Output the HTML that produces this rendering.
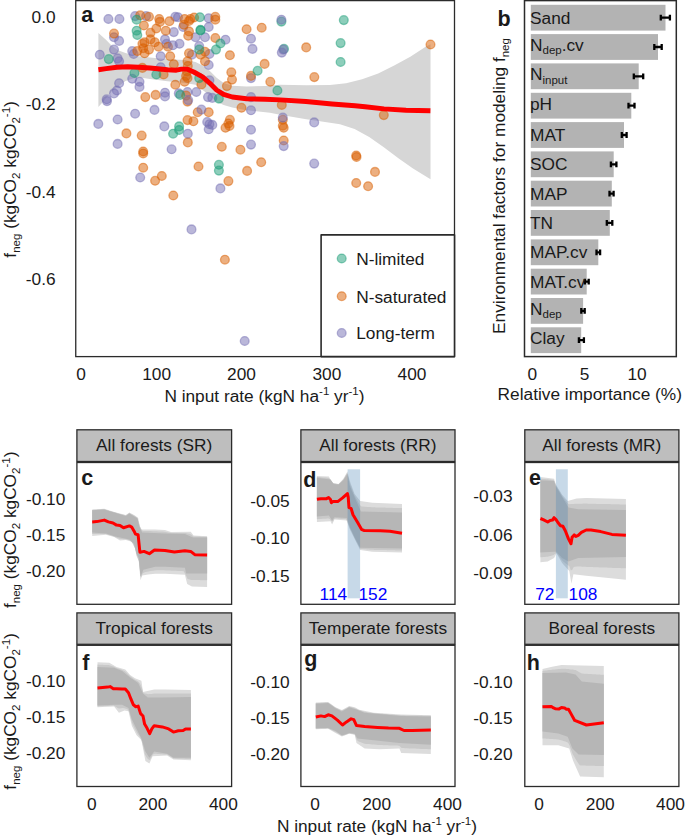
<!DOCTYPE html>
<html><head><meta charset="utf-8"><style>
html,body{margin:0;padding:0;background:#fff;}
body{width:685px;height:836px;overflow:hidden;position:relative;}
svg{position:absolute;left:0;top:0;font-family:"Liberation Sans",sans-serif;}
</style></head><body>
<svg width="685" height="836" viewBox="0 0 685 836">
<rect x="75.75" y="0.6" width="378.75" height="356.0" fill="#fff" stroke="#2b2b2b" stroke-width="1.3"/>
<polygon points="98.4,33.1 106.2,40.1 111.5,45.5 118.0,50.3 125.5,53.0 133.1,55.2 141.7,56.8 150.0,57.6 167.5,59.2 185.0,60.0 195.5,62.0 202.6,65.5 209.6,70.8 216.6,77.8 223.6,83.0 232.3,85.7 246.4,86.5 265.0,86.0 280.0,84.8 306.3,85.2 330.0,85.1 346.1,83.2 362.1,79.2 378.2,73.5 394.2,65.5 410.3,56.7 426.4,46.2 430.5,44.2 430.5,179.3 413.0,168.4 398.4,158.2 383.8,147.2 369.2,137.0 354.6,129.0 340.0,124.3 320.0,121.3 306.3,119.3 280.0,114.8 270.0,112.8 246.4,110.2 232.3,107.6 223.6,104.9 216.6,101.4 209.6,95.3 202.6,90.0 195.5,84.8 185.0,83.0 167.5,81.3 150.0,79.0 141.7,77.8 133.1,78.6 125.5,81.0 118.0,86.4 111.5,91.8 106.2,98.3 98.4,106.9" fill="#d6d6d6"/>
<circle cx="108.4" cy="19.0" r="4.4" fill="#7570b3" fill-opacity="0.5" stroke="#7570b3" stroke-opacity="0.5" stroke-width="1.3"/>
<circle cx="119.4" cy="19.0" r="4.4" fill="#7570b3" fill-opacity="0.5" stroke="#7570b3" stroke-opacity="0.5" stroke-width="1.3"/>
<circle cx="135.1" cy="16.1" r="4.4" fill="#7570b3" fill-opacity="0.5" stroke="#7570b3" stroke-opacity="0.5" stroke-width="1.3"/>
<circle cx="146.1" cy="16.1" r="4.4" fill="#7570b3" fill-opacity="0.5" stroke="#7570b3" stroke-opacity="0.5" stroke-width="1.3"/>
<circle cx="114" cy="37.2" r="4.4" fill="#7570b3" fill-opacity="0.5" stroke="#7570b3" stroke-opacity="0.5" stroke-width="1.3"/>
<circle cx="119.1" cy="40.9" r="4.4" fill="#7570b3" fill-opacity="0.5" stroke="#7570b3" stroke-opacity="0.5" stroke-width="1.3"/>
<circle cx="114" cy="49.6" r="4.4" fill="#7570b3" fill-opacity="0.5" stroke="#7570b3" stroke-opacity="0.5" stroke-width="1.3"/>
<circle cx="99.8" cy="54.7" r="4.4" fill="#7570b3" fill-opacity="0.5" stroke="#7570b3" stroke-opacity="0.5" stroke-width="1.3"/>
<circle cx="132.2" cy="51.1" r="4.4" fill="#7570b3" fill-opacity="0.5" stroke="#7570b3" stroke-opacity="0.5" stroke-width="1.3"/>
<circle cx="133.7" cy="54" r="4.4" fill="#7570b3" fill-opacity="0.5" stroke="#7570b3" stroke-opacity="0.5" stroke-width="1.3"/>
<circle cx="117.6" cy="58.4" r="4.4" fill="#7570b3" fill-opacity="0.5" stroke="#7570b3" stroke-opacity="0.5" stroke-width="1.3"/>
<circle cx="119.1" cy="61.3" r="4.4" fill="#7570b3" fill-opacity="0.5" stroke="#7570b3" stroke-opacity="0.5" stroke-width="1.3"/>
<circle cx="160.7" cy="56.2" r="4.4" fill="#7570b3" fill-opacity="0.5" stroke="#7570b3" stroke-opacity="0.5" stroke-width="1.3"/>
<circle cx="165" cy="39.4" r="4.4" fill="#7570b3" fill-opacity="0.5" stroke="#7570b3" stroke-opacity="0.5" stroke-width="1.3"/>
<circle cx="166.5" cy="43.8" r="4.4" fill="#7570b3" fill-opacity="0.5" stroke="#7570b3" stroke-opacity="0.5" stroke-width="1.3"/>
<circle cx="173.8" cy="32.1" r="4.4" fill="#7570b3" fill-opacity="0.5" stroke="#7570b3" stroke-opacity="0.5" stroke-width="1.3"/>
<circle cx="175.3" cy="16.8" r="4.4" fill="#7570b3" fill-opacity="0.5" stroke="#7570b3" stroke-opacity="0.5" stroke-width="1.3"/>
<circle cx="119.1" cy="83.2" r="4.4" fill="#7570b3" fill-opacity="0.5" stroke="#7570b3" stroke-opacity="0.5" stroke-width="1.3"/>
<circle cx="116.9" cy="90.5" r="4.4" fill="#7570b3" fill-opacity="0.5" stroke="#7570b3" stroke-opacity="0.5" stroke-width="1.3"/>
<circle cx="114" cy="93.4" r="4.4" fill="#7570b3" fill-opacity="0.5" stroke="#7570b3" stroke-opacity="0.5" stroke-width="1.3"/>
<circle cx="132.2" cy="78.8" r="4.4" fill="#7570b3" fill-opacity="0.5" stroke="#7570b3" stroke-opacity="0.5" stroke-width="1.3"/>
<circle cx="139.5" cy="81.8" r="4.4" fill="#7570b3" fill-opacity="0.5" stroke="#7570b3" stroke-opacity="0.5" stroke-width="1.3"/>
<circle cx="139.5" cy="86.9" r="4.4" fill="#7570b3" fill-opacity="0.5" stroke="#7570b3" stroke-opacity="0.5" stroke-width="1.3"/>
<circle cx="106.7" cy="99.3" r="4.4" fill="#7570b3" fill-opacity="0.5" stroke="#7570b3" stroke-opacity="0.5" stroke-width="1.3"/>
<circle cx="165" cy="92.7" r="4.4" fill="#7570b3" fill-opacity="0.5" stroke="#7570b3" stroke-opacity="0.5" stroke-width="1.3"/>
<circle cx="160.7" cy="67.2" r="4.4" fill="#7570b3" fill-opacity="0.5" stroke="#7570b3" stroke-opacity="0.5" stroke-width="1.3"/>
<circle cx="165" cy="96.4" r="4.4" fill="#7570b3" fill-opacity="0.5" stroke="#7570b3" stroke-opacity="0.5" stroke-width="1.3"/>
<circle cx="114" cy="33.6" r="4.4" fill="#d95f02" fill-opacity="0.5" stroke="#d95f02" stroke-opacity="0.5" stroke-width="1.3"/>
<circle cx="140.2" cy="15.3" r="4.4" fill="#d95f02" fill-opacity="0.5" stroke="#d95f02" stroke-opacity="0.5" stroke-width="1.3"/>
<circle cx="149" cy="16.8" r="4.4" fill="#d95f02" fill-opacity="0.5" stroke="#d95f02" stroke-opacity="0.5" stroke-width="1.3"/>
<circle cx="159.2" cy="19" r="4.4" fill="#d95f02" fill-opacity="0.5" stroke="#d95f02" stroke-opacity="0.5" stroke-width="1.3"/>
<circle cx="159.9" cy="21.9" r="4.4" fill="#d95f02" fill-opacity="0.5" stroke="#d95f02" stroke-opacity="0.5" stroke-width="1.3"/>
<circle cx="169.4" cy="21.2" r="4.4" fill="#d95f02" fill-opacity="0.5" stroke="#d95f02" stroke-opacity="0.5" stroke-width="1.3"/>
<circle cx="143.9" cy="25.5" r="4.4" fill="#d95f02" fill-opacity="0.5" stroke="#d95f02" stroke-opacity="0.5" stroke-width="1.3"/>
<circle cx="156.3" cy="28.5" r="4.4" fill="#d95f02" fill-opacity="0.5" stroke="#d95f02" stroke-opacity="0.5" stroke-width="1.3"/>
<circle cx="165.8" cy="30.7" r="4.4" fill="#d95f02" fill-opacity="0.5" stroke="#d95f02" stroke-opacity="0.5" stroke-width="1.3"/>
<circle cx="150.5" cy="32.8" r="4.4" fill="#d95f02" fill-opacity="0.5" stroke="#d95f02" stroke-opacity="0.5" stroke-width="1.3"/>
<circle cx="144.6" cy="42.3" r="4.4" fill="#d95f02" fill-opacity="0.5" stroke="#d95f02" stroke-opacity="0.5" stroke-width="1.3"/>
<circle cx="150.5" cy="39.4" r="4.4" fill="#d95f02" fill-opacity="0.5" stroke="#d95f02" stroke-opacity="0.5" stroke-width="1.3"/>
<circle cx="154.8" cy="42.3" r="4.4" fill="#d95f02" fill-opacity="0.5" stroke="#d95f02" stroke-opacity="0.5" stroke-width="1.3"/>
<circle cx="142.4" cy="43.8" r="4.4" fill="#d95f02" fill-opacity="0.5" stroke="#d95f02" stroke-opacity="0.5" stroke-width="1.3"/>
<circle cx="143.2" cy="48.2" r="4.4" fill="#d95f02" fill-opacity="0.5" stroke="#d95f02" stroke-opacity="0.5" stroke-width="1.3"/>
<circle cx="149" cy="49.6" r="4.4" fill="#d95f02" fill-opacity="0.5" stroke="#d95f02" stroke-opacity="0.5" stroke-width="1.3"/>
<circle cx="158.5" cy="46.7" r="4.4" fill="#d95f02" fill-opacity="0.5" stroke="#d95f02" stroke-opacity="0.5" stroke-width="1.3"/>
<circle cx="168" cy="46.7" r="4.4" fill="#d95f02" fill-opacity="0.5" stroke="#d95f02" stroke-opacity="0.5" stroke-width="1.3"/>
<circle cx="144.6" cy="53.3" r="4.4" fill="#d95f02" fill-opacity="0.5" stroke="#d95f02" stroke-opacity="0.5" stroke-width="1.3"/>
<circle cx="137.3" cy="51.1" r="4.4" fill="#d95f02" fill-opacity="0.5" stroke="#d95f02" stroke-opacity="0.5" stroke-width="1.3"/>
<circle cx="170.2" cy="56.2" r="4.4" fill="#d95f02" fill-opacity="0.5" stroke="#d95f02" stroke-opacity="0.5" stroke-width="1.3"/>
<circle cx="142.4" cy="67.9" r="4.4" fill="#d95f02" fill-opacity="0.5" stroke="#d95f02" stroke-opacity="0.5" stroke-width="1.3"/>
<circle cx="163.6" cy="74.5" r="4.4" fill="#d95f02" fill-opacity="0.5" stroke="#d95f02" stroke-opacity="0.5" stroke-width="1.3"/>
<circle cx="175.3" cy="84.7" r="4.4" fill="#d95f02" fill-opacity="0.5" stroke="#d95f02" stroke-opacity="0.5" stroke-width="1.3"/>
<circle cx="145.3" cy="97.1" r="4.4" fill="#d95f02" fill-opacity="0.5" stroke="#d95f02" stroke-opacity="0.5" stroke-width="1.3"/>
<circle cx="155.6" cy="94.9" r="4.4" fill="#d95f02" fill-opacity="0.5" stroke="#d95f02" stroke-opacity="0.5" stroke-width="1.3"/>
<circle cx="173.8" cy="64.2" r="4.4" fill="#d95f02" fill-opacity="0.5" stroke="#d95f02" stroke-opacity="0.5" stroke-width="1.3"/>
<circle cx="108.8" cy="59.1" r="4.4" fill="#1b9e77" fill-opacity="0.5" stroke="#1b9e77" stroke-opacity="0.5" stroke-width="1.3"/>
<circle cx="136.6" cy="19.7" r="4.4" fill="#1b9e77" fill-opacity="0.5" stroke="#1b9e77" stroke-opacity="0.5" stroke-width="1.3"/>
<circle cx="136.6" cy="30.7" r="4.4" fill="#1b9e77" fill-opacity="0.5" stroke="#1b9e77" stroke-opacity="0.5" stroke-width="1.3"/>
<circle cx="137.3" cy="35" r="4.4" fill="#1b9e77" fill-opacity="0.5" stroke="#1b9e77" stroke-opacity="0.5" stroke-width="1.3"/>
<circle cx="134.4" cy="73" r="4.4" fill="#1b9e77" fill-opacity="0.5" stroke="#1b9e77" stroke-opacity="0.5" stroke-width="1.3"/>
<circle cx="156.3" cy="74.5" r="4.4" fill="#1b9e77" fill-opacity="0.5" stroke="#1b9e77" stroke-opacity="0.5" stroke-width="1.3"/>
<circle cx="178" cy="17.2" r="4.4" fill="#7570b3" fill-opacity="0.5" stroke="#7570b3" stroke-opacity="0.5" stroke-width="1.3"/>
<circle cx="208.7" cy="18.2" r="4.4" fill="#7570b3" fill-opacity="0.5" stroke="#7570b3" stroke-opacity="0.5" stroke-width="1.3"/>
<circle cx="183.1" cy="27" r="4.4" fill="#7570b3" fill-opacity="0.5" stroke="#7570b3" stroke-opacity="0.5" stroke-width="1.3"/>
<circle cx="208.7" cy="27" r="4.4" fill="#7570b3" fill-opacity="0.5" stroke="#7570b3" stroke-opacity="0.5" stroke-width="1.3"/>
<circle cx="195.5" cy="37.2" r="4.4" fill="#7570b3" fill-opacity="0.5" stroke="#7570b3" stroke-opacity="0.5" stroke-width="1.3"/>
<circle cx="205" cy="37.2" r="4.4" fill="#7570b3" fill-opacity="0.5" stroke="#7570b3" stroke-opacity="0.5" stroke-width="1.3"/>
<circle cx="225.5" cy="39.7" r="4.4" fill="#7570b3" fill-opacity="0.5" stroke="#7570b3" stroke-opacity="0.5" stroke-width="1.3"/>
<circle cx="251" cy="38.7" r="4.4" fill="#7570b3" fill-opacity="0.5" stroke="#7570b3" stroke-opacity="0.5" stroke-width="1.3"/>
<circle cx="252.5" cy="48.9" r="4.4" fill="#7570b3" fill-opacity="0.5" stroke="#7570b3" stroke-opacity="0.5" stroke-width="1.3"/>
<circle cx="179.5" cy="43.8" r="4.4" fill="#7570b3" fill-opacity="0.5" stroke="#7570b3" stroke-opacity="0.5" stroke-width="1.3"/>
<circle cx="172.9" cy="45.3" r="4.4" fill="#7570b3" fill-opacity="0.5" stroke="#7570b3" stroke-opacity="0.5" stroke-width="1.3"/>
<circle cx="199.2" cy="46" r="4.4" fill="#7570b3" fill-opacity="0.5" stroke="#7570b3" stroke-opacity="0.5" stroke-width="1.3"/>
<circle cx="209.4" cy="54" r="4.4" fill="#7570b3" fill-opacity="0.5" stroke="#7570b3" stroke-opacity="0.5" stroke-width="1.3"/>
<circle cx="191.9" cy="54.7" r="4.4" fill="#7570b3" fill-opacity="0.5" stroke="#7570b3" stroke-opacity="0.5" stroke-width="1.3"/>
<circle cx="208.7" cy="65" r="4.4" fill="#7570b3" fill-opacity="0.5" stroke="#7570b3" stroke-opacity="0.5" stroke-width="1.3"/>
<circle cx="251" cy="78.1" r="4.4" fill="#7570b3" fill-opacity="0.5" stroke="#7570b3" stroke-opacity="0.5" stroke-width="1.3"/>
<circle cx="209.4" cy="80.3" r="4.4" fill="#7570b3" fill-opacity="0.5" stroke="#7570b3" stroke-opacity="0.5" stroke-width="1.3"/>
<circle cx="196.3" cy="92" r="4.4" fill="#7570b3" fill-opacity="0.5" stroke="#7570b3" stroke-opacity="0.5" stroke-width="1.3"/>
<circle cx="187.5" cy="92" r="4.4" fill="#7570b3" fill-opacity="0.5" stroke="#7570b3" stroke-opacity="0.5" stroke-width="1.3"/>
<circle cx="178.8" cy="93.4" r="4.4" fill="#7570b3" fill-opacity="0.5" stroke="#7570b3" stroke-opacity="0.5" stroke-width="1.3"/>
<circle cx="208" cy="97.1" r="4.4" fill="#7570b3" fill-opacity="0.5" stroke="#7570b3" stroke-opacity="0.5" stroke-width="1.3"/>
<circle cx="251" cy="97.1" r="4.4" fill="#7570b3" fill-opacity="0.5" stroke="#7570b3" stroke-opacity="0.5" stroke-width="1.3"/>
<circle cx="184.6" cy="19" r="4.4" fill="#d95f02" fill-opacity="0.5" stroke="#d95f02" stroke-opacity="0.5" stroke-width="1.3"/>
<circle cx="190.4" cy="19" r="4.4" fill="#d95f02" fill-opacity="0.5" stroke="#d95f02" stroke-opacity="0.5" stroke-width="1.3"/>
<circle cx="194.1" cy="17.5" r="4.4" fill="#d95f02" fill-opacity="0.5" stroke="#d95f02" stroke-opacity="0.5" stroke-width="1.3"/>
<circle cx="215.3" cy="16.8" r="4.4" fill="#d95f02" fill-opacity="0.5" stroke="#d95f02" stroke-opacity="0.5" stroke-width="1.3"/>
<circle cx="215.3" cy="19.7" r="4.4" fill="#d95f02" fill-opacity="0.5" stroke="#d95f02" stroke-opacity="0.5" stroke-width="1.3"/>
<circle cx="183.9" cy="24.8" r="4.4" fill="#d95f02" fill-opacity="0.5" stroke="#d95f02" stroke-opacity="0.5" stroke-width="1.3"/>
<circle cx="189" cy="31.4" r="4.4" fill="#d95f02" fill-opacity="0.5" stroke="#d95f02" stroke-opacity="0.5" stroke-width="1.3"/>
<circle cx="188.2" cy="35.8" r="4.4" fill="#d95f02" fill-opacity="0.5" stroke="#d95f02" stroke-opacity="0.5" stroke-width="1.3"/>
<circle cx="215.3" cy="38" r="4.4" fill="#d95f02" fill-opacity="0.5" stroke="#d95f02" stroke-opacity="0.5" stroke-width="1.3"/>
<circle cx="246.6" cy="29.2" r="4.4" fill="#d95f02" fill-opacity="0.5" stroke="#d95f02" stroke-opacity="0.5" stroke-width="1.3"/>
<circle cx="261.7" cy="27.7" r="4.4" fill="#d95f02" fill-opacity="0.5" stroke="#d95f02" stroke-opacity="0.5" stroke-width="1.3"/>
<circle cx="189" cy="53.3" r="4.4" fill="#d95f02" fill-opacity="0.5" stroke="#d95f02" stroke-opacity="0.5" stroke-width="1.3"/>
<circle cx="205" cy="51.8" r="4.4" fill="#d95f02" fill-opacity="0.5" stroke="#d95f02" stroke-opacity="0.5" stroke-width="1.3"/>
<circle cx="200.7" cy="54.7" r="4.4" fill="#d95f02" fill-opacity="0.5" stroke="#d95f02" stroke-opacity="0.5" stroke-width="1.3"/>
<circle cx="205" cy="61.3" r="4.4" fill="#d95f02" fill-opacity="0.5" stroke="#d95f02" stroke-opacity="0.5" stroke-width="1.3"/>
<circle cx="229.9" cy="55.2" r="4.4" fill="#d95f02" fill-opacity="0.5" stroke="#d95f02" stroke-opacity="0.5" stroke-width="1.3"/>
<circle cx="187.5" cy="61.3" r="4.4" fill="#d95f02" fill-opacity="0.5" stroke="#d95f02" stroke-opacity="0.5" stroke-width="1.3"/>
<circle cx="264.6" cy="63.9" r="4.4" fill="#d95f02" fill-opacity="0.5" stroke="#d95f02" stroke-opacity="0.5" stroke-width="1.3"/>
<circle cx="231.3" cy="72.3" r="4.4" fill="#d95f02" fill-opacity="0.5" stroke="#d95f02" stroke-opacity="0.5" stroke-width="1.3"/>
<circle cx="232" cy="79.6" r="4.4" fill="#d95f02" fill-opacity="0.5" stroke="#d95f02" stroke-opacity="0.5" stroke-width="1.3"/>
<circle cx="251" cy="75.9" r="4.4" fill="#d95f02" fill-opacity="0.5" stroke="#d95f02" stroke-opacity="0.5" stroke-width="1.3"/>
<circle cx="226.9" cy="86.1" r="4.4" fill="#d95f02" fill-opacity="0.5" stroke="#d95f02" stroke-opacity="0.5" stroke-width="1.3"/>
<circle cx="184.6" cy="81.8" r="4.4" fill="#d95f02" fill-opacity="0.5" stroke="#d95f02" stroke-opacity="0.5" stroke-width="1.3"/>
<circle cx="186.1" cy="75.9" r="4.4" fill="#d95f02" fill-opacity="0.5" stroke="#d95f02" stroke-opacity="0.5" stroke-width="1.3"/>
<circle cx="201.4" cy="84.4" r="4.4" fill="#d95f02" fill-opacity="0.5" stroke="#d95f02" stroke-opacity="0.5" stroke-width="1.3"/>
<circle cx="186.1" cy="95.6" r="4.4" fill="#d95f02" fill-opacity="0.5" stroke="#d95f02" stroke-opacity="0.5" stroke-width="1.3"/>
<circle cx="270.3" cy="81.8" r="4.4" fill="#d95f02" fill-opacity="0.5" stroke="#d95f02" stroke-opacity="0.5" stroke-width="1.3"/>
<circle cx="199.9" cy="17.2" r="4.4" fill="#1b9e77" fill-opacity="0.5" stroke="#1b9e77" stroke-opacity="0.5" stroke-width="1.3"/>
<circle cx="200.4" cy="29.9" r="4.4" fill="#1b9e77" fill-opacity="0.5" stroke="#1b9e77" stroke-opacity="0.5" stroke-width="1.3"/>
<circle cx="220.4" cy="43.5" r="4.4" fill="#1b9e77" fill-opacity="0.5" stroke="#1b9e77" stroke-opacity="0.5" stroke-width="1.3"/>
<circle cx="216" cy="49.6" r="4.4" fill="#1b9e77" fill-opacity="0.5" stroke="#1b9e77" stroke-opacity="0.5" stroke-width="1.3"/>
<circle cx="199.2" cy="49.6" r="4.4" fill="#1b9e77" fill-opacity="0.5" stroke="#1b9e77" stroke-opacity="0.5" stroke-width="1.3"/>
<circle cx="257.6" cy="70.8" r="4.4" fill="#1b9e77" fill-opacity="0.5" stroke="#1b9e77" stroke-opacity="0.5" stroke-width="1.3"/>
<circle cx="199.2" cy="78.1" r="4.4" fill="#1b9e77" fill-opacity="0.5" stroke="#1b9e77" stroke-opacity="0.5" stroke-width="1.3"/>
<circle cx="180.2" cy="94.9" r="4.4" fill="#1b9e77" fill-opacity="0.5" stroke="#1b9e77" stroke-opacity="0.5" stroke-width="1.3"/>
<circle cx="281.4" cy="21.6" r="4.4" fill="#1b9e77" fill-opacity="0.5" stroke="#1b9e77" stroke-opacity="0.5" stroke-width="1.3"/>
<circle cx="284" cy="48.9" r="4.4" fill="#1b9e77" fill-opacity="0.5" stroke="#1b9e77" stroke-opacity="0.5" stroke-width="1.3"/>
<circle cx="343.8" cy="20.1" r="4.4" fill="#1b9e77" fill-opacity="0.5" stroke="#1b9e77" stroke-opacity="0.5" stroke-width="1.3"/>
<circle cx="340.6" cy="43.1" r="4.4" fill="#1b9e77" fill-opacity="0.5" stroke="#1b9e77" stroke-opacity="0.5" stroke-width="1.3"/>
<circle cx="340.6" cy="62" r="4.4" fill="#1b9e77" fill-opacity="0.5" stroke="#1b9e77" stroke-opacity="0.5" stroke-width="1.3"/>
<circle cx="277.4" cy="90.5" r="4.4" fill="#1b9e77" fill-opacity="0.5" stroke="#1b9e77" stroke-opacity="0.5" stroke-width="1.3"/>
<circle cx="281.4" cy="19.7" r="4.4" fill="#7570b3" fill-opacity="0.5" stroke="#7570b3" stroke-opacity="0.5" stroke-width="1.3"/>
<circle cx="281.8" cy="52.6" r="4.4" fill="#7570b3" fill-opacity="0.5" stroke="#7570b3" stroke-opacity="0.5" stroke-width="1.3"/>
<circle cx="283.2" cy="49.6" r="4.4" fill="#7570b3" fill-opacity="0.5" stroke="#7570b3" stroke-opacity="0.5" stroke-width="1.3"/>
<circle cx="306.2" cy="47.4" r="4.4" fill="#d95f02" fill-opacity="0.5" stroke="#d95f02" stroke-opacity="0.5" stroke-width="1.3"/>
<circle cx="314.3" cy="77.1" r="4.4" fill="#d95f02" fill-opacity="0.5" stroke="#d95f02" stroke-opacity="0.5" stroke-width="1.3"/>
<circle cx="430.5" cy="44.5" r="4.4" fill="#d95f02" fill-opacity="0.5" stroke="#d95f02" stroke-opacity="0.5" stroke-width="1.3"/>
<circle cx="107" cy="101.1" r="4.4" fill="#7570b3" fill-opacity="0.5" stroke="#7570b3" stroke-opacity="0.5" stroke-width="1.3"/>
<circle cx="135.1" cy="113.7" r="4.4" fill="#7570b3" fill-opacity="0.5" stroke="#7570b3" stroke-opacity="0.5" stroke-width="1.3"/>
<circle cx="154.5" cy="109.9" r="4.4" fill="#7570b3" fill-opacity="0.5" stroke="#7570b3" stroke-opacity="0.5" stroke-width="1.3"/>
<circle cx="117.6" cy="119.5" r="4.4" fill="#7570b3" fill-opacity="0.5" stroke="#7570b3" stroke-opacity="0.5" stroke-width="1.3"/>
<circle cx="98.3" cy="123.9" r="4.4" fill="#7570b3" fill-opacity="0.5" stroke="#7570b3" stroke-opacity="0.5" stroke-width="1.3"/>
<circle cx="164.3" cy="126.4" r="4.4" fill="#7570b3" fill-opacity="0.5" stroke="#7570b3" stroke-opacity="0.5" stroke-width="1.3"/>
<circle cx="117.6" cy="143.9" r="4.4" fill="#7570b3" fill-opacity="0.5" stroke="#7570b3" stroke-opacity="0.5" stroke-width="1.3"/>
<circle cx="171.6" cy="149.3" r="4.4" fill="#7570b3" fill-opacity="0.5" stroke="#7570b3" stroke-opacity="0.5" stroke-width="1.3"/>
<circle cx="140.2" cy="177.5" r="4.4" fill="#7570b3" fill-opacity="0.5" stroke="#7570b3" stroke-opacity="0.5" stroke-width="1.3"/>
<circle cx="126.4" cy="133.4" r="4.4" fill="#d95f02" fill-opacity="0.5" stroke="#d95f02" stroke-opacity="0.5" stroke-width="1.3"/>
<circle cx="141.7" cy="135.6" r="4.4" fill="#d95f02" fill-opacity="0.5" stroke="#d95f02" stroke-opacity="0.5" stroke-width="1.3"/>
<circle cx="143.2" cy="151.5" r="4.4" fill="#d95f02" fill-opacity="0.5" stroke="#d95f02" stroke-opacity="0.5" stroke-width="1.3"/>
<circle cx="143.2" cy="153.5" r="4.4" fill="#d95f02" fill-opacity="0.5" stroke="#d95f02" stroke-opacity="0.5" stroke-width="1.3"/>
<circle cx="143.2" cy="167.7" r="4.4" fill="#d95f02" fill-opacity="0.5" stroke="#d95f02" stroke-opacity="0.5" stroke-width="1.3"/>
<circle cx="161.8" cy="176" r="4.4" fill="#d95f02" fill-opacity="0.5" stroke="#d95f02" stroke-opacity="0.5" stroke-width="1.3"/>
<circle cx="155.1" cy="180.8" r="4.4" fill="#d95f02" fill-opacity="0.5" stroke="#d95f02" stroke-opacity="0.5" stroke-width="1.3"/>
<circle cx="173.3" cy="195.5" r="4.4" fill="#d95f02" fill-opacity="0.5" stroke="#d95f02" stroke-opacity="0.5" stroke-width="1.3"/>
<circle cx="173.1" cy="133.7" r="4.4" fill="#1b9e77" fill-opacity="0.5" stroke="#1b9e77" stroke-opacity="0.5" stroke-width="1.3"/>
<circle cx="187.5" cy="101.6" r="4.4" fill="#d95f02" fill-opacity="0.5" stroke="#d95f02" stroke-opacity="0.5" stroke-width="1.3"/>
<circle cx="241.5" cy="107.8" r="4.4" fill="#d95f02" fill-opacity="0.5" stroke="#d95f02" stroke-opacity="0.5" stroke-width="1.3"/>
<circle cx="197.7" cy="112.2" r="4.4" fill="#d95f02" fill-opacity="0.5" stroke="#d95f02" stroke-opacity="0.5" stroke-width="1.3"/>
<circle cx="208.7" cy="112.2" r="4.4" fill="#d95f02" fill-opacity="0.5" stroke="#d95f02" stroke-opacity="0.5" stroke-width="1.3"/>
<circle cx="187.5" cy="120.1" r="4.4" fill="#d95f02" fill-opacity="0.5" stroke="#d95f02" stroke-opacity="0.5" stroke-width="1.3"/>
<circle cx="193.4" cy="121.3" r="4.4" fill="#d95f02" fill-opacity="0.5" stroke="#d95f02" stroke-opacity="0.5" stroke-width="1.3"/>
<circle cx="229.9" cy="119.8" r="4.4" fill="#d95f02" fill-opacity="0.5" stroke="#d95f02" stroke-opacity="0.5" stroke-width="1.3"/>
<circle cx="228.4" cy="123.5" r="4.4" fill="#d95f02" fill-opacity="0.5" stroke="#d95f02" stroke-opacity="0.5" stroke-width="1.3"/>
<circle cx="229.5" cy="126" r="4.4" fill="#d95f02" fill-opacity="0.5" stroke="#d95f02" stroke-opacity="0.5" stroke-width="1.3"/>
<circle cx="225.5" cy="127.8" r="4.4" fill="#d95f02" fill-opacity="0.5" stroke="#d95f02" stroke-opacity="0.5" stroke-width="1.3"/>
<circle cx="187.8" cy="142.4" r="4.4" fill="#d95f02" fill-opacity="0.5" stroke="#d95f02" stroke-opacity="0.5" stroke-width="1.3"/>
<circle cx="221.8" cy="146.8" r="4.4" fill="#d95f02" fill-opacity="0.5" stroke="#d95f02" stroke-opacity="0.5" stroke-width="1.3"/>
<circle cx="240.4" cy="149.7" r="4.4" fill="#d95f02" fill-opacity="0.5" stroke="#d95f02" stroke-opacity="0.5" stroke-width="1.3"/>
<circle cx="198.5" cy="166.5" r="4.4" fill="#d95f02" fill-opacity="0.5" stroke="#d95f02" stroke-opacity="0.5" stroke-width="1.3"/>
<circle cx="261.2" cy="162.2" r="4.4" fill="#d95f02" fill-opacity="0.5" stroke="#d95f02" stroke-opacity="0.5" stroke-width="1.3"/>
<circle cx="247.1" cy="170.9" r="4.4" fill="#d95f02" fill-opacity="0.5" stroke="#d95f02" stroke-opacity="0.5" stroke-width="1.3"/>
<circle cx="228.4" cy="181.1" r="4.4" fill="#d95f02" fill-opacity="0.5" stroke="#d95f02" stroke-opacity="0.5" stroke-width="1.3"/>
<circle cx="188.2" cy="100.1" r="4.4" fill="#7570b3" fill-opacity="0.5" stroke="#7570b3" stroke-opacity="0.5" stroke-width="1.3"/>
<circle cx="212.3" cy="97.9" r="4.4" fill="#7570b3" fill-opacity="0.5" stroke="#7570b3" stroke-opacity="0.5" stroke-width="1.3"/>
<circle cx="251" cy="110.3" r="4.4" fill="#7570b3" fill-opacity="0.5" stroke="#7570b3" stroke-opacity="0.5" stroke-width="1.3"/>
<circle cx="201.4" cy="109.6" r="4.4" fill="#7570b3" fill-opacity="0.5" stroke="#7570b3" stroke-opacity="0.5" stroke-width="1.3"/>
<circle cx="207.2" cy="122" r="4.4" fill="#7570b3" fill-opacity="0.5" stroke="#7570b3" stroke-opacity="0.5" stroke-width="1.3"/>
<circle cx="212.3" cy="124.9" r="4.4" fill="#7570b3" fill-opacity="0.5" stroke="#7570b3" stroke-opacity="0.5" stroke-width="1.3"/>
<circle cx="208.7" cy="129.3" r="4.4" fill="#7570b3" fill-opacity="0.5" stroke="#7570b3" stroke-opacity="0.5" stroke-width="1.3"/>
<circle cx="209.4" cy="124.2" r="4.4" fill="#7570b3" fill-opacity="0.5" stroke="#7570b3" stroke-opacity="0.5" stroke-width="1.3"/>
<circle cx="251" cy="129.7" r="4.4" fill="#7570b3" fill-opacity="0.5" stroke="#7570b3" stroke-opacity="0.5" stroke-width="1.3"/>
<circle cx="187.8" cy="133.7" r="4.4" fill="#7570b3" fill-opacity="0.5" stroke="#7570b3" stroke-opacity="0.5" stroke-width="1.3"/>
<circle cx="251" cy="144.6" r="4.4" fill="#7570b3" fill-opacity="0.5" stroke="#7570b3" stroke-opacity="0.5" stroke-width="1.3"/>
<circle cx="220.4" cy="188.4" r="4.4" fill="#7570b3" fill-opacity="0.5" stroke="#7570b3" stroke-opacity="0.5" stroke-width="1.3"/>
<circle cx="218.9" cy="98.6" r="4.4" fill="#1b9e77" fill-opacity="0.5" stroke="#1b9e77" stroke-opacity="0.5" stroke-width="1.3"/>
<circle cx="179.1" cy="126.4" r="4.4" fill="#1b9e77" fill-opacity="0.5" stroke="#1b9e77" stroke-opacity="0.5" stroke-width="1.3"/>
<circle cx="179.1" cy="130" r="4.4" fill="#1b9e77" fill-opacity="0.5" stroke="#1b9e77" stroke-opacity="0.5" stroke-width="1.3"/>
<circle cx="218.9" cy="164.8" r="4.4" fill="#1b9e77" fill-opacity="0.5" stroke="#1b9e77" stroke-opacity="0.5" stroke-width="1.3"/>
<circle cx="218.9" cy="170.6" r="4.4" fill="#1b9e77" fill-opacity="0.5" stroke="#1b9e77" stroke-opacity="0.5" stroke-width="1.3"/>
<circle cx="281.8" cy="104.9" r="4.4" fill="#d95f02" fill-opacity="0.5" stroke="#d95f02" stroke-opacity="0.5" stroke-width="1.3"/>
<circle cx="282.8" cy="119.8" r="4.4" fill="#d95f02" fill-opacity="0.5" stroke="#d95f02" stroke-opacity="0.5" stroke-width="1.3"/>
<circle cx="282.8" cy="125.7" r="4.4" fill="#d95f02" fill-opacity="0.5" stroke="#d95f02" stroke-opacity="0.5" stroke-width="1.3"/>
<circle cx="283.7" cy="127.8" r="4.4" fill="#d95f02" fill-opacity="0.5" stroke="#d95f02" stroke-opacity="0.5" stroke-width="1.3"/>
<circle cx="283.7" cy="140.5" r="4.4" fill="#d95f02" fill-opacity="0.5" stroke="#d95f02" stroke-opacity="0.5" stroke-width="1.3"/>
<circle cx="356.2" cy="155.5" r="4.4" fill="#d95f02" fill-opacity="0.5" stroke="#d95f02" stroke-opacity="0.5" stroke-width="1.3"/>
<circle cx="356.5" cy="157" r="4.4" fill="#d95f02" fill-opacity="0.5" stroke="#d95f02" stroke-opacity="0.5" stroke-width="1.3"/>
<circle cx="356.2" cy="183" r="4.4" fill="#d95f02" fill-opacity="0.5" stroke="#d95f02" stroke-opacity="0.5" stroke-width="1.3"/>
<circle cx="383.8" cy="115.1" r="4.4" fill="#d95f02" fill-opacity="0.5" stroke="#d95f02" stroke-opacity="0.5" stroke-width="1.3"/>
<circle cx="375" cy="171.9" r="4.4" fill="#d95f02" fill-opacity="0.5" stroke="#d95f02" stroke-opacity="0.5" stroke-width="1.3"/>
<circle cx="368.1" cy="186.2" r="4.4" fill="#d95f02" fill-opacity="0.5" stroke="#d95f02" stroke-opacity="0.5" stroke-width="1.3"/>
<circle cx="282.8" cy="117.6" r="4.4" fill="#7570b3" fill-opacity="0.5" stroke="#7570b3" stroke-opacity="0.5" stroke-width="1.3"/>
<circle cx="314.2" cy="122.4" r="4.4" fill="#7570b3" fill-opacity="0.5" stroke="#7570b3" stroke-opacity="0.5" stroke-width="1.3"/>
<circle cx="283.7" cy="146.1" r="4.4" fill="#7570b3" fill-opacity="0.5" stroke="#7570b3" stroke-opacity="0.5" stroke-width="1.3"/>
<circle cx="314.2" cy="163.6" r="4.4" fill="#7570b3" fill-opacity="0.5" stroke="#7570b3" stroke-opacity="0.5" stroke-width="1.3"/>
<circle cx="187.8" cy="66" r="4.4" fill="#d95f02" fill-opacity="0.5" stroke="#d95f02" stroke-opacity="0.5" stroke-width="1.3"/>
<circle cx="187" cy="71.5" r="4.4" fill="#d95f02" fill-opacity="0.5" stroke="#d95f02" stroke-opacity="0.5" stroke-width="1.3"/>
<circle cx="187.5" cy="78" r="4.4" fill="#d95f02" fill-opacity="0.5" stroke="#d95f02" stroke-opacity="0.5" stroke-width="1.3"/>
<circle cx="189" cy="21" r="4.4" fill="#d95f02" fill-opacity="0.5" stroke="#d95f02" stroke-opacity="0.5" stroke-width="1.3"/>
<circle cx="200.6" cy="30.4" r="4.4" fill="#1b9e77" fill-opacity="0.5" stroke="#1b9e77" stroke-opacity="0.5" stroke-width="1.3"/>
<circle cx="191.5" cy="229.4" r="4.4" fill="#7570b3" fill-opacity="0.5" stroke="#7570b3" stroke-opacity="0.5" stroke-width="1.3"/>
<circle cx="244.7" cy="341" r="4.4" fill="#7570b3" fill-opacity="0.5" stroke="#7570b3" stroke-opacity="0.5" stroke-width="1.3"/>
<circle cx="224.9" cy="259.7" r="4.4" fill="#d95f02" fill-opacity="0.5" stroke="#d95f02" stroke-opacity="0.5" stroke-width="1.3"/>
<polyline points="98.4,69.7 106.2,68.6 116.9,67.3 127.7,66.8 138.5,67.2 150.0,68.0 167.5,69.8 176.3,70.2 181.5,69.1 186.8,69.1 193.8,72.0 202.6,76.9 209.6,83.0 216.6,90.0 223.6,94.4 232.3,97.0 246.4,98.8 265.0,99.3 280.0,99.9 306.0,101.5 332.0,104.0 355.0,105.8 365.0,106.7 384.0,108.9 406.0,110.3 430.4,110.8" fill="none" stroke="#ff0000" stroke-width="4.9" stroke-linejoin="round"/>
<rect x="321.1" y="234.9" width="133.4" height="121.7" fill="#fff" stroke="#2b2b2b" stroke-width="1.6" stroke-linejoin="round"/>
<circle cx="341.7" cy="258.5" r="4.4" fill="#1b9e77" fill-opacity="0.5" stroke="#1b9e77" stroke-opacity="0.5" stroke-width="1.3"/>
<text x="356.2" y="264.8" font-size="17.3" fill="#1a1a1a">N-limited</text>
<circle cx="341.7" cy="296.2" r="4.4" fill="#d95f02" fill-opacity="0.5" stroke="#d95f02" stroke-opacity="0.5" stroke-width="1.3"/>
<text x="356.2" y="302.5" font-size="17.3" fill="#1a1a1a">N-saturated</text>
<circle cx="341.7" cy="333.0" r="4.4" fill="#7570b3" fill-opacity="0.5" stroke="#7570b3" stroke-opacity="0.5" stroke-width="1.3"/>
<text x="356.2" y="339.3" font-size="17.3" fill="#1a1a1a">Long-term</text>
<text x="81.3" y="22.1" font-size="21.5" font-weight="bold" fill="#1a1a1a">a</text>
<text x="55.6" y="22.8" font-size="17.3" text-anchor="end" fill="#1a1a1a">0.0</text>
<text x="55.6" y="110.2" font-size="17.3" text-anchor="end" fill="#1a1a1a">-0.2</text>
<text x="55.6" y="197.5" font-size="17.3" text-anchor="end" fill="#1a1a1a">-0.4</text>
<text x="55.6" y="285.0" font-size="17.3" text-anchor="end" fill="#1a1a1a">-0.6</text>
<text x="81.0" y="379.9" font-size="17.3" text-anchor="middle" fill="#1a1a1a">0</text>
<text x="156.6" y="379.9" font-size="17.3" text-anchor="middle" fill="#1a1a1a">100</text>
<text x="241.5" y="379.9" font-size="17.3" text-anchor="middle" fill="#1a1a1a">200</text>
<text x="326.9" y="379.9" font-size="17.3" text-anchor="middle" fill="#1a1a1a">300</text>
<text x="412.0" y="379.9" font-size="17.3" text-anchor="middle" fill="#1a1a1a">400</text>
<text x="164.4" y="402.1" font-size="17.3" fill="#1a1a1a">N input rate (kgN ha<tspan font-size="11.5" dy="-7">-1</tspan><tspan dy="7"> yr</tspan><tspan font-size="11.5" dy="-7">-1</tspan><tspan dy="7">)</tspan></text>
<text transform="translate(16.3,179.4) rotate(-90)" x="0" y="0" text-anchor="middle" font-size="17.3" fill="#1a1a1a">f<tspan font-size="11.5" dy="3.5">neg</tspan><tspan dy="-3.5"> (kgCO</tspan><tspan font-size="11.5" dy="3.5">2</tspan><tspan dy="-3.5"> kgCO</tspan><tspan font-size="11.5" dy="3.5">2</tspan><tspan font-size="11.5" dy="-10">-1</tspan><tspan dy="6.5">)</tspan></text>
<rect x="524.5" y="0.6" width="151.8" height="356.0" fill="#fff" stroke="#2b2b2b" stroke-width="1.5"/>
<rect x="530.8" y="4.8" width="134.7" height="25.8" fill="#b3b3b3"/>
<path d="M660.8,17.7H669.9M660.8,14.8V20.6M669.9,14.8V20.6" stroke="#000" stroke-width="2.3" fill="none"/>
<text x="530.0" y="23.6" font-size="17.3" fill="#1a1a1a">Sand</text>
<rect x="530.8" y="34.1" width="127.2" height="25.8" fill="#b3b3b3"/>
<path d="M654.3,47.0H661.7M654.3,44.1V49.9M661.7,44.1V49.9" stroke="#000" stroke-width="2.3" fill="none"/>
<text x="530.0" y="51.0" font-size="17.3" fill="#1a1a1a">N<tspan font-size="11.5" dy="3.3">dep</tspan><tspan dy="-3.3">.cv</tspan></text>
<rect x="530.8" y="63.4" width="107.9" height="25.8" fill="#b3b3b3"/>
<path d="M633.8,76.3H643.2M633.8,73.4V79.2M643.2,73.4V79.2" stroke="#000" stroke-width="2.3" fill="none"/>
<text x="530.0" y="80.3" font-size="17.3" fill="#1a1a1a">N<tspan font-size="11.5" dy="3.3">input</tspan></text>
<rect x="530.8" y="92.8" width="100.5" height="25.8" fill="#b3b3b3"/>
<path d="M628.5,105.7H634.5M628.5,102.8V108.6M634.5,102.8V108.6" stroke="#000" stroke-width="2.3" fill="none"/>
<text x="530.0" y="109.8" font-size="17.3" fill="#1a1a1a">pH</text>
<rect x="530.8" y="122.1" width="93.2" height="25.8" fill="#b3b3b3"/>
<path d="M621.8,135.0H626.6M621.8,132.1V137.9M626.6,132.1V137.9" stroke="#000" stroke-width="2.3" fill="none"/>
<text x="530.0" y="140.9" font-size="17.3" fill="#1a1a1a">MAT</text>
<rect x="530.8" y="151.4" width="82.9" height="25.8" fill="#b3b3b3"/>
<path d="M610.9,164.3H616.4M610.9,161.4V167.2M616.4,161.4V167.2" stroke="#000" stroke-width="2.3" fill="none"/>
<text x="530.0" y="170.1" font-size="17.3" fill="#1a1a1a">SOC</text>
<rect x="530.8" y="180.7" width="81.0" height="25.8" fill="#b3b3b3"/>
<path d="M609.5,193.6H613.6M609.5,190.7V196.5M613.6,190.7V196.5" stroke="#000" stroke-width="2.3" fill="none"/>
<text x="530.0" y="199.7" font-size="17.3" fill="#1a1a1a">MAP</text>
<rect x="530.8" y="210.0" width="79.0" height="25.8" fill="#b3b3b3"/>
<path d="M606.8,222.9H612.3M606.8,220.0V225.8M612.3,220.0V225.8" stroke="#000" stroke-width="2.3" fill="none"/>
<text x="530.0" y="229.0" font-size="17.3" fill="#1a1a1a">TN</text>
<rect x="530.8" y="239.4" width="67.5" height="25.8" fill="#b3b3b3"/>
<path d="M596.5,252.3H600.1M596.5,249.4V255.2M600.1,249.4V255.2" stroke="#000" stroke-width="2.3" fill="none"/>
<text x="530.0" y="258.4" font-size="17.3" fill="#1a1a1a">MAP.cv</text>
<rect x="530.8" y="268.7" width="55.9" height="25.8" fill="#b3b3b3"/>
<path d="M584.9,281.6H588.7M584.9,278.7V284.5M588.7,278.7V284.5" stroke="#000" stroke-width="2.3" fill="none"/>
<text x="530.0" y="287.5" font-size="17.3" fill="#1a1a1a">MAT.cv</text>
<rect x="530.8" y="298.0" width="52.3" height="25.8" fill="#b3b3b3"/>
<path d="M581.3,310.9H584.7M581.3,308.0V313.8M584.7,308.0V313.8" stroke="#000" stroke-width="2.3" fill="none"/>
<text x="530.0" y="314.6" font-size="17.3" fill="#1a1a1a">N<tspan font-size="11.5" dy="3.3">dep</tspan></text>
<rect x="530.8" y="327.3" width="50.4" height="25.8" fill="#b3b3b3"/>
<path d="M578.9,340.2H583.9M578.9,337.3V343.1M583.9,337.3V343.1" stroke="#000" stroke-width="2.3" fill="none"/>
<text x="530.0" y="344.3" font-size="17.3" fill="#1a1a1a">Clay</text>
<text x="497.6" y="26.0" font-size="21.5" font-weight="bold" fill="#1a1a1a">b</text>
<text x="532.4" y="379.9" font-size="17.3" text-anchor="middle" fill="#1a1a1a">0</text>
<text x="584.5" y="379.9" font-size="17.3" text-anchor="middle" fill="#1a1a1a">5</text>
<text x="637.1" y="379.9" font-size="17.3" text-anchor="middle" fill="#1a1a1a">10</text>
<text x="497.6" y="400.2" font-size="17.3" fill="#1a1a1a">Relative importance (%)</text>
<text transform="translate(505.2,186) rotate(-90)" text-anchor="middle" font-size="17.3" fill="#1a1a1a">Environmental factors for modeling f<tspan font-size="11.5" dy="3.5">neg</tspan></text>
<rect x="76.9" y="429.8" width="154.7" height="31.7" fill="#bebebe" stroke="#2b2b2b" stroke-width="1.3"/>
<rect x="76.9" y="462.5" width="154.7" height="141.8" fill="#fff" stroke="#2b2b2b" stroke-width="1.3"/>
<text x="154.2" y="450.8" font-size="17.3" text-anchor="middle" fill="#1a1a1a">All forests (SR)</text>
<rect x="300.9" y="429.8" width="154.1" height="31.7" fill="#bebebe" stroke="#2b2b2b" stroke-width="1.3"/>
<rect x="300.9" y="462.5" width="154.1" height="141.8" fill="#fff" stroke="#2b2b2b" stroke-width="1.3"/>
<text x="377.9" y="450.8" font-size="17.3" text-anchor="middle" fill="#1a1a1a">All forests (RR)</text>
<rect x="524.8" y="429.8" width="154.1" height="31.7" fill="#bebebe" stroke="#2b2b2b" stroke-width="1.3"/>
<rect x="524.8" y="462.5" width="154.1" height="141.8" fill="#fff" stroke="#2b2b2b" stroke-width="1.3"/>
<text x="601.8" y="450.8" font-size="17.3" text-anchor="middle" fill="#1a1a1a">All forests (MR)</text>
<rect x="76.9" y="612.9" width="154.7" height="31.4" fill="#bebebe" stroke="#2b2b2b" stroke-width="1.3"/>
<rect x="76.9" y="645.3" width="154.7" height="141.2" fill="#fff" stroke="#2b2b2b" stroke-width="1.3"/>
<text x="154.2" y="633.9" font-size="17.3" text-anchor="middle" fill="#1a1a1a">Tropical forests</text>
<rect x="300.9" y="612.9" width="154.1" height="31.4" fill="#bebebe" stroke="#2b2b2b" stroke-width="1.3"/>
<rect x="300.9" y="645.3" width="154.1" height="141.2" fill="#fff" stroke="#2b2b2b" stroke-width="1.3"/>
<text x="377.9" y="633.9" font-size="17.3" text-anchor="middle" fill="#1a1a1a">Temperate forests</text>
<rect x="524.8" y="612.9" width="154.1" height="31.4" fill="#bebebe" stroke="#2b2b2b" stroke-width="1.3"/>
<rect x="524.8" y="645.3" width="154.1" height="141.2" fill="#fff" stroke="#2b2b2b" stroke-width="1.3"/>
<text x="601.8" y="633.9" font-size="17.3" text-anchor="middle" fill="#1a1a1a">Boreal forests</text>
<polygon points="92.2,509.6 104.3,508.8 114.2,511.9 125.9,515.1 129.4,512.5 134.1,514.9 138.1,517.8 139.9,526.5 141.6,529.5 155.1,529.5 165.0,530.0 170.9,532.1 190.7,531.8 193.6,535.6 207.1,536.2 207.1,587.0 191.9,586.4 187.2,584.1 184.9,574.7 165.0,573.8 155.1,573.8 148.1,574.4 142.2,575.6 140.5,580.3 138.7,560.4 136.4,555.7 135.2,548.7 131.7,541.7 125.9,540.0 120.0,540.5 114.2,537.0 106.0,534.7 92.2,535.9" fill="#dcdcdc"/>
<polygon points="92.2,509.9 94.2,509.8 96.1,509.7 98.1,509.6 100.0,509.4 102.0,509.3 103.9,509.2 105.9,509.7 107.8,510.3 109.8,510.9 111.7,511.5 113.7,512.1 115.6,512.6 117.5,513.2 119.5,513.7 121.4,514.3 123.4,514.8 125.3,515.4 127.3,514.5 129.2,513.1 131.2,514.0 133.1,515.0 135.1,516.2 137.0,517.5 139.0,523.4 140.9,529.0 142.8,530.9 144.8,531.0 146.7,531.0 148.7,531.1 150.6,531.1 152.6,531.2 154.5,531.2 156.5,531.3 158.4,531.4 160.4,531.5 162.3,531.6 164.3,531.7 166.2,532.0 168.2,532.4 170.1,532.7 172.0,532.9 174.0,532.9 175.9,532.9 177.9,532.9 179.8,532.9 181.8,532.9 183.7,532.9 185.7,533.0 187.6,533.4 189.6,533.8 191.5,534.7 193.5,536.4 195.4,536.5 197.3,536.6 199.3,536.6 201.2,536.7 203.2,536.7 205.1,536.7 207.1,536.8 207.1,580.3 205.1,580.3 203.2,580.2 201.2,580.2 199.3,580.1 197.3,580.1 195.4,580.1 193.5,580.0 191.5,579.9 189.6,579.4 187.6,578.9 185.7,574.7 183.7,571.2 181.8,571.1 179.8,571.0 177.9,570.9 175.9,570.8 174.0,570.7 172.0,570.7 170.1,570.6 168.2,570.5 166.2,570.4 164.3,570.3 162.3,570.3 160.4,570.3 158.4,570.3 156.5,570.3 154.5,570.4 152.6,570.7 150.6,571.1 148.7,571.4 146.7,571.8 144.8,572.2 142.8,573.3 140.9,577.4 139.0,561.8 137.0,555.8 135.1,548.3 133.1,543.8 131.2,541.4 129.2,540.2 127.3,539.7 125.3,539.3 123.4,539.2 121.4,539.1 119.5,538.8 117.5,538.0 115.6,537.2 113.7,536.4 111.7,535.8 109.8,535.2 107.8,534.7 105.9,534.1 103.9,534.1 102.0,534.1 100.0,534.1 98.1,534.1 96.1,534.1 94.2,534.1 92.2,534.1" fill="#c9c9c9"/>
<polygon points="92.2,510.2 104.3,509.6 114.2,512.5 125.9,516.0 129.4,513.5 137.6,518.4 139.3,526.5 142.2,532.4 165.0,533.5 184.9,533.9 193.1,537.4 207.1,537.4 207.1,573.6 186.1,573.6 184.9,567.7 165.0,566.8 155.1,566.8 143.4,569.7 140.5,576.8 138.7,558.1 136.4,553.4 134.1,544.1 129.4,539.4 115.4,536.5 106.0,533.5 92.2,532.4" fill="#b6b6b6"/>
<polygon points="316.9,475.9 328.9,476.6 332.1,482.7 338.5,483.9 343.4,478.7 347.4,471.4 349.8,481.1 354.6,493.9 360.2,501.1 372.3,502.7 402.0,503.9 402.0,552.5 372.3,551.7 360.2,550.1 349.8,529.2 346.6,520.4 334.5,519.6 332.1,524.4 330.5,521.2 316.9,522.0" fill="#dcdcdc"/>
<polygon points="316.9,476.9 318.3,477.0 319.7,477.1 321.2,477.3 322.6,477.4 324.1,477.5 325.5,477.6 327.0,477.7 328.4,477.9 329.8,478.9 331.3,480.8 332.7,482.7 334.2,483.5 335.6,483.8 337.1,484.0 338.5,484.3 339.9,482.9 341.4,481.4 342.8,480.0 344.3,477.9 345.7,475.5 347.2,473.0 348.6,478.1 350.0,484.1 351.5,487.8 352.9,491.4 354.4,495.0 355.8,497.8 357.3,500.4 358.7,502.9 360.1,505.3 361.6,506.4 363.0,506.6 364.5,506.7 365.9,506.8 367.4,506.9 368.8,507.0 370.2,507.1 371.7,507.2 373.1,507.3 374.6,507.3 376.0,507.4 377.5,507.4 378.9,507.5 380.3,507.5 381.8,507.5 383.2,507.6 384.7,507.6 386.1,507.7 387.5,507.7 389.0,507.7 390.4,507.8 391.9,507.8 393.3,507.9 394.8,507.9 396.2,508.0 397.6,508.0 399.1,508.0 400.5,508.1 402.0,508.1 402.0,550.5 400.5,550.5 399.1,550.4 397.6,550.4 396.2,550.4 394.8,550.3 393.3,550.3 391.9,550.3 390.4,550.2 389.0,550.2 387.5,550.2 386.1,550.1 384.7,550.1 383.2,550.1 381.8,550.0 380.3,550.0 378.9,550.0 377.5,549.9 376.0,549.9 374.6,549.9 373.1,549.8 371.7,549.8 370.2,549.7 368.8,549.6 367.4,549.5 365.9,549.3 364.5,549.2 363.0,549.1 361.6,549.0 360.1,548.8 358.7,546.0 357.3,543.2 355.8,540.4 354.4,537.6 352.9,534.6 351.5,531.6 350.0,528.6 348.6,524.8 347.2,520.8 345.7,519.1 344.3,519.0 342.8,518.9 341.4,518.9 339.9,518.8 338.5,518.7 337.1,518.6 335.6,518.5 334.2,519.0 332.7,521.4 331.3,521.0 329.8,519.1 328.4,518.5 327.0,518.6 325.5,518.7 324.1,518.7 322.6,518.8 321.2,518.9 319.7,519.0 318.3,519.1 316.9,519.2" fill="#c9c9c9"/>
<polygon points="316.9,477.8 330.5,479.5 333.7,483.9 338.5,484.6 343.4,480.3 347.4,473.8 349.8,485.9 356.2,501.1 361.0,511.6 402.0,512.4 402.0,548.5 360.2,547.7 354.6,537.3 349.8,526.8 346.6,518.0 334.5,517.2 332.1,520.4 328.9,515.6 316.9,516.4" fill="#b6b6b6"/>
<polygon points="540.4,477.0 554.1,478.7 555.7,484.3 562.1,494.7 567.7,501.1 576.6,498.4 586.2,497.9 625.9,499.0 625.9,579.8 586.2,575.8 573.4,574.2 571.4,583.8 569.3,571.0 562.1,563.0 556.5,553.3 554.1,558.1 547.7,561.4 540.4,562.2" fill="#dcdcdc"/>
<polygon points="540.4,478.7 541.9,478.8 543.3,478.9 544.8,479.0 546.2,479.2 547.7,479.3 549.1,479.4 550.6,479.5 552.0,479.7 553.5,479.8 554.9,482.6 556.4,486.2 557.8,488.7 559.3,491.1 560.7,493.5 562.2,496.0 563.6,498.0 565.1,500.0 566.5,502.0 568.0,503.8 569.4,504.2 570.8,504.1 572.3,504.0 573.7,503.9 575.2,503.7 576.6,503.7 578.1,503.7 579.5,503.7 581.0,503.7 582.4,503.7 583.9,503.6 585.3,503.6 586.8,503.6 588.2,503.7 589.7,503.7 591.1,503.7 592.6,503.8 594.0,503.8 595.5,503.8 596.9,503.9 598.4,503.9 599.8,503.9 601.3,503.9 602.7,504.0 604.2,504.0 605.6,504.0 607.0,504.1 608.5,504.1 609.9,504.1 611.4,504.2 612.8,504.2 614.3,504.2 615.7,504.3 617.2,504.3 618.6,504.3 620.1,504.4 621.5,504.4 623.0,504.4 624.4,504.5 625.9,504.5 625.9,568.3 624.4,568.3 623.0,568.2 621.5,568.2 620.1,568.1 618.6,568.1 617.2,568.0 615.7,568.0 614.3,567.9 612.8,567.9 611.4,567.8 609.9,567.7 608.5,567.7 607.0,567.6 605.6,567.6 604.2,567.5 602.7,567.5 601.3,567.4 599.8,567.4 598.4,567.3 596.9,567.3 595.5,567.2 594.0,567.2 592.6,567.1 591.1,567.0 589.7,567.0 588.2,566.9 586.8,566.9 585.3,566.8 583.9,566.8 582.4,566.7 581.0,566.6 579.5,566.5 578.1,566.5 576.6,566.6 575.2,566.8 573.7,566.9 572.3,569.8 570.8,570.4 569.4,566.2 568.0,565.3 566.5,564.1 565.1,562.9 563.6,561.8 562.2,560.6 560.7,558.5 559.3,556.5 557.8,554.4 556.4,552.7 554.9,554.1 553.5,555.1 552.0,555.5 550.6,555.9 549.1,556.3 547.7,556.7 546.2,556.8 544.8,557.0 543.3,557.1 541.9,557.2 540.4,557.3" fill="#c9c9c9"/>
<polygon points="540.4,480.3 554.1,481.1 555.7,485.9 562.1,497.1 568.5,507.6 578.2,509.2 625.9,510.0 625.9,556.9 578.2,558.1 568.5,561.4 562.1,558.1 556.5,551.7 554.1,551.7 540.4,552.5" fill="#b6b6b6"/>
<polygon points="97.5,662.2 109.3,662.7 116.5,667.0 125.3,669.5 130.1,675.1 135.0,678.3 141.4,680.7 143.0,691.9 154.2,689.5 165.5,689.5 190.9,690.0 190.9,760.2 173.5,759.4 167.1,755.4 152.6,756.2 149.4,763.4 145.4,761.0 141.4,740.1 136.6,735.3 131.8,725.7 128.5,711.2 124.5,710.4 118.9,712.8 114.1,706.4 97.5,707.2" fill="#dcdcdc"/>
<polygon points="97.5,664.6 99.1,664.7 100.7,664.8 102.3,664.8 103.9,664.9 105.5,665.0 107.0,665.1 108.6,665.1 110.2,665.5 111.8,666.0 113.4,666.5 114.9,667.2 116.5,667.9 118.1,668.5 119.7,669.0 121.3,669.5 122.9,670.2 124.4,671.1 126.0,672.2 127.6,673.8 129.2,675.3 130.8,676.7 132.3,677.8 133.9,678.9 135.5,679.9 137.1,680.7 138.7,681.9 140.2,683.9 141.8,687.4 143.4,692.9 145.0,693.4 146.6,693.8 148.2,694.2 149.7,694.0 151.3,693.9 152.9,693.7 154.5,693.5 156.1,693.5 157.6,693.5 159.2,693.5 160.8,693.5 162.4,693.5 164.0,693.5 165.5,693.5 167.1,693.5 168.7,693.5 170.3,693.5 171.9,693.5 173.5,693.5 175.0,693.5 176.6,693.5 178.2,693.5 179.8,693.5 181.4,693.5 182.9,693.5 184.5,693.5 186.1,693.5 187.7,693.5 189.3,693.5 190.9,693.5 190.9,759.0 189.3,758.9 187.7,758.9 186.1,758.9 184.5,758.8 182.9,758.8 181.4,758.8 179.8,758.7 178.2,758.7 176.6,758.7 175.0,758.6 173.5,758.5 171.9,757.6 170.3,756.6 168.7,755.6 167.1,754.6 165.5,754.5 164.0,754.4 162.4,754.3 160.8,754.2 159.2,754.0 157.6,753.9 156.1,753.8 154.5,753.7 152.9,754.6 151.3,757.2 149.7,760.0 148.2,759.2 146.6,757.5 145.0,754.4 143.4,747.8 141.8,741.2 140.2,737.6 138.7,735.2 137.1,732.9 135.5,729.9 133.9,726.8 132.3,723.6 130.8,718.5 129.2,712.1 127.6,709.3 126.0,708.7 124.4,708.2 122.9,708.1 121.3,708.3 119.7,708.6 118.1,708.3 116.5,707.2 114.9,706.2 113.4,705.6 111.8,705.7 110.2,705.8 108.6,705.9 107.0,705.9 105.5,706.0 103.9,706.1 102.3,706.2 100.7,706.2 99.1,706.3 97.5,706.4" fill="#c9c9c9"/>
<polygon points="97.5,667.0 114.1,667.8 122.1,671.1 130.1,677.5 138.2,683.1 143.0,693.5 147.8,697.6 162.3,697.6 190.9,697.1 190.9,757.8 173.5,757.8 167.1,753.8 154.2,751.4 149.4,757.8 145.4,751.4 141.4,738.5 136.6,728.9 131.8,719.2 128.5,708.0 122.1,704.8 114.1,704.8 97.5,705.6" fill="#b6b6b6"/>
<polygon points="315.8,702.4 328.2,701.9 335.5,707.3 341.9,710.1 349.2,706.1 354.7,707.3 359.3,709.7 373.9,712.8 401.2,714.6 430.8,715.2 430.8,753.9 401.2,753.0 399.4,748.4 379.3,749.3 364.7,748.4 356.5,742.9 354.7,734.7 349.2,733.8 341.9,736.5 335.5,732.9 328.2,728.7 315.8,729.2" fill="#dcdcdc"/>
<polygon points="315.8,703.0 317.8,703.0 319.7,702.9 321.7,702.8 323.6,702.7 325.6,702.6 327.5,702.5 329.5,703.4 331.4,704.8 333.4,706.2 335.3,707.6 337.3,708.6 339.2,709.5 341.2,710.4 343.1,710.1 345.1,709.0 347.0,707.9 349.0,706.8 350.9,707.1 352.9,707.6 354.8,708.2 356.8,709.0 358.7,709.9 360.7,710.6 362.6,711.2 364.6,711.8 366.5,712.1 368.4,712.4 370.4,712.7 372.3,713.0 374.3,713.2 376.2,713.4 378.2,713.5 380.1,713.7 382.1,713.8 384.0,714.0 386.0,714.1 387.9,714.3 389.9,714.4 391.8,714.6 393.8,714.7 395.7,714.9 397.7,715.0 399.6,715.2 401.6,715.3 403.5,715.3 405.5,715.4 407.4,715.4 409.4,715.4 411.3,715.5 413.3,715.5 415.2,715.5 417.2,715.6 419.1,715.6 421.1,715.6 423.0,715.7 425.0,715.7 426.9,715.7 428.9,715.8 430.8,715.8 430.8,749.3 428.9,749.2 426.9,749.1 425.0,749.0 423.0,749.0 421.1,748.9 419.1,748.8 417.2,748.7 415.2,748.6 413.3,748.5 411.3,748.4 409.4,748.4 407.4,748.3 405.5,748.2 403.5,748.1 401.6,748.0 399.6,745.9 397.7,745.6 395.7,745.5 393.8,745.5 391.8,745.4 389.9,745.4 387.9,745.3 386.0,745.2 384.0,745.2 382.1,745.1 380.1,745.1 378.2,744.9 376.2,744.8 374.3,744.6 372.3,744.4 370.4,744.3 368.4,744.1 366.5,743.9 364.6,743.7 362.6,742.9 360.7,742.2 358.7,741.4 356.8,740.1 354.8,734.6 352.9,733.9 350.9,733.6 349.0,733.4 347.0,734.2 345.1,734.9 343.1,735.6 341.2,735.6 339.2,734.3 337.3,733.1 335.3,731.9 333.4,730.9 331.4,729.9 329.5,728.9 327.5,728.3 325.6,728.4 323.6,728.5 321.7,728.6 319.7,728.6 317.8,728.7 315.8,728.8" fill="#c9c9c9"/>
<polygon points="315.8,703.7 328.2,703.1 335.5,708.2 341.9,711.5 349.2,707.3 355.6,709.2 364.7,712.8 401.2,715.9 430.8,716.5 430.8,744.7 399.4,742.9 373.9,740.2 357.4,738.4 354.7,733.8 349.2,732.9 341.9,735.6 335.5,731.1 328.2,728.0 315.8,728.3" fill="#b6b6b6"/>
<polygon points="542.5,669.0 552.1,666.7 561.5,665.1 581.7,665.6 603.8,665.9 603.8,777.2 580.1,776.4 573.1,760.8 569.2,748.4 558.3,745.3 542.5,745.3" fill="#dcdcdc"/>
<polygon points="542.5,671.0 543.5,670.8 544.5,670.7 545.6,670.5 546.6,670.4 547.7,670.3 548.7,670.1 549.7,670.0 550.8,669.9 551.8,669.7 552.9,669.6 553.9,669.5 554.9,669.4 556.0,669.3 557.0,669.2 558.1,669.1 559.1,669.0 560.1,668.9 561.2,668.8 562.2,668.8 563.3,668.8 564.3,668.8 565.3,668.8 566.4,668.9 567.4,669.0 568.5,669.1 569.5,669.2 570.5,669.4 571.6,669.5 572.6,669.6 573.7,669.7 574.7,669.9 575.7,670.1 576.8,670.7 577.8,671.3 578.8,671.9 579.9,672.5 580.9,673.1 582.0,673.5 583.0,673.6 584.0,673.7 585.1,673.7 586.1,673.8 587.2,673.8 588.2,673.9 589.2,674.0 590.3,674.0 591.3,674.1 592.4,674.2 593.4,674.2 594.4,674.3 595.5,674.3 596.5,674.4 597.6,674.5 598.6,674.5 599.6,674.6 600.7,674.7 601.7,674.7 602.8,674.8 603.8,674.8 603.8,766.1 602.8,766.0 601.7,766.0 600.7,766.0 599.6,766.0 598.6,765.9 597.6,765.9 596.5,765.9 595.5,765.9 594.4,765.8 593.4,765.8 592.4,765.8 591.3,765.8 590.3,765.7 589.2,765.7 588.2,765.7 587.2,765.7 586.1,765.7 585.1,765.6 584.0,765.6 583.0,765.6 582.0,765.6 580.9,765.5 579.9,765.2 578.8,764.1 577.8,762.5 576.8,760.9 575.7,759.2 574.7,757.5 573.7,755.8 572.6,753.9 571.6,751.1 570.5,748.2 569.5,745.2 568.5,743.4 567.4,742.2 566.4,741.9 565.3,741.6 564.3,741.3 563.3,741.0 562.2,740.6 561.2,740.3 560.1,740.0 559.1,739.7 558.1,739.4 557.0,739.4 556.0,739.3 554.9,739.2 553.9,739.2 552.9,739.1 551.8,739.0 550.8,739.0 549.7,738.9 548.7,738.8 547.7,738.8 546.6,738.7 545.6,738.6 544.5,738.6 543.5,738.5 542.5,738.4" fill="#c9c9c9"/>
<polygon points="542.5,672.9 566.1,672.4 575.5,674.5 581.7,681.5 603.8,683.8 603.8,754.9 578.6,754.6 572.4,748.4 567.7,736.7 558.3,733.6 542.5,731.6" fill="#b6b6b6"/>
<rect x="347.6" y="469.3" width="12.5" height="129.0" fill="#4682b4" fill-opacity="0.3"/>
<rect x="555.9" y="469.3" width="11.9" height="129.0" fill="#4682b4" fill-opacity="0.3"/>
<polyline points="92.2,521.9 96.7,521.6 104.3,520.1 108.4,521.9 113.0,523.0 116.5,525.1 120.0,525.4 123.5,527.7 129.4,525.9 131.7,527.1 134.1,531.2 135.5,534.1 138.1,534.7 139.9,552.2 144.0,551.4 149.3,553.7 154.5,550.0 165.0,550.5 174.4,552.0 184.9,550.8 190.7,551.4 194.8,554.7 207.1,554.9" fill="none" stroke="#ff0000" stroke-width="3" stroke-linejoin="round"/>
<polyline points="316.9,499.2 320.9,498.7 326.5,498.7 328.6,497.6 330.5,499.5 331.3,502.7 332.9,501.6 337.7,501.6 342.6,497.9 347.4,493.6 348.2,497.1 349.0,507.6 351.1,508.4 353.0,514.8 357.8,522.8 361.8,529.7 364.2,530.5 380.3,530.8 389.9,531.2 402.0,533.3" fill="none" stroke="#ff0000" stroke-width="3" stroke-linejoin="round"/>
<polyline points="540.4,518.5 543.7,519.9 547.7,522.0 550.1,520.4 552.5,520.1 554.1,517.7 556.0,519.6 558.1,522.8 560.5,525.7 562.9,526.3 565.3,530.8 568.5,538.9 571.0,543.7 572.1,537.3 574.2,534.9 575.8,536.5 578.2,535.3 581.4,532.4 586.2,530.0 591.0,530.0 600.7,531.6 611.9,534.4 625.9,535.3" fill="none" stroke="#ff0000" stroke-width="3" stroke-linejoin="round"/>
<polyline points="97.5,687.9 107.7,687.1 110.1,686.6 113.3,688.7 116.5,688.7 122.1,689.0 125.3,689.0 128.5,692.7 131.0,699.2 133.4,704.8 135.8,706.7 138.2,706.1 140.6,713.6 143.0,716.0 144.6,724.1 147.0,728.1 149.7,733.7 151.8,728.9 154.2,725.7 162.3,726.9 168.7,728.9 173.5,732.1 178.3,730.8 183.1,730.5 185.6,728.9 190.9,728.9" fill="none" stroke="#ff0000" stroke-width="3" stroke-linejoin="round"/>
<polyline points="315.8,717.0 320.9,715.9 324.6,716.6 328.2,714.8 331.9,715.9 337.4,720.1 342.5,725.0 346.5,721.9 351.1,718.8 353.8,719.7 356.5,725.6 364.7,726.5 377.5,727.4 388.5,728.0 399.4,728.3 404.0,730.5 412.2,730.5 430.8,730.1" fill="none" stroke="#ff0000" stroke-width="3" stroke-linejoin="round"/>
<polyline points="542.5,706.7 551.3,706.4 552.9,707.6 555.2,708.7 559.1,708.9 561.5,707.5 564.6,707.9 566.1,709.2 568.5,709.2 570.8,713.4 574.7,720.4 586.4,725.0 603.8,722.7" fill="none" stroke="#ff0000" stroke-width="3" stroke-linejoin="round"/>
<text x="333.4" y="599.8" font-size="17.3" text-anchor="middle" fill="#0000ff">114</text>
<text x="372.9" y="599.8" font-size="17.3" text-anchor="middle" fill="#0000ff">152</text>
<text x="544.8" y="599.8" font-size="17.3" text-anchor="middle" fill="#0000ff">72</text>
<text x="583.0" y="599.8" font-size="17.3" text-anchor="middle" fill="#0000ff">108</text>
<text x="81.3" y="485.2" font-size="21.5" font-weight="bold" fill="#1a1a1a">c</text>
<text x="303.3" y="486.6" font-size="21.5" font-weight="bold" fill="#1a1a1a">d</text>
<text x="528.9" y="485.2" font-size="21.5" font-weight="bold" fill="#1a1a1a">e</text>
<text x="82.2" y="669.8" font-size="21.5" font-weight="bold" fill="#1a1a1a">f</text>
<text x="304.2" y="665.8" font-size="21.5" font-weight="bold" fill="#1a1a1a">g</text>
<text x="526.7" y="669.9" font-size="21.5" font-weight="bold" fill="#1a1a1a">h</text>
<text x="65.3" y="505.2" font-size="17.3" text-anchor="end" fill="#1a1a1a">-0.10</text>
<text x="65.3" y="540.7" font-size="17.3" text-anchor="end" fill="#1a1a1a">-0.15</text>
<text x="65.3" y="576.7" font-size="17.3" text-anchor="end" fill="#1a1a1a">-0.20</text>
<text x="289.7" y="506.8" font-size="17.3" text-anchor="end" fill="#1a1a1a">-0.05</text>
<text x="289.7" y="544.4" font-size="17.3" text-anchor="end" fill="#1a1a1a">-0.10</text>
<text x="289.7" y="582.3" font-size="17.3" text-anchor="end" fill="#1a1a1a">-0.15</text>
<text x="512.6" y="502.4" font-size="17.3" text-anchor="end" fill="#1a1a1a">-0.03</text>
<text x="512.6" y="540.5" font-size="17.3" text-anchor="end" fill="#1a1a1a">-0.06</text>
<text x="512.6" y="579.0" font-size="17.3" text-anchor="end" fill="#1a1a1a">-0.09</text>
<text x="65.3" y="687.2" font-size="17.3" text-anchor="end" fill="#1a1a1a">-0.10</text>
<text x="65.3" y="723.0" font-size="17.3" text-anchor="end" fill="#1a1a1a">-0.15</text>
<text x="65.3" y="758.8" font-size="17.3" text-anchor="end" fill="#1a1a1a">-0.20</text>
<text x="289.7" y="687.8" font-size="17.3" text-anchor="end" fill="#1a1a1a">-0.10</text>
<text x="289.7" y="723.7" font-size="17.3" text-anchor="end" fill="#1a1a1a">-0.15</text>
<text x="289.7" y="760.0" font-size="17.3" text-anchor="end" fill="#1a1a1a">-0.20</text>
<text x="512.6" y="687.8" font-size="17.3" text-anchor="end" fill="#1a1a1a">-0.10</text>
<text x="512.6" y="723.7" font-size="17.3" text-anchor="end" fill="#1a1a1a">-0.15</text>
<text x="512.6" y="760.0" font-size="17.3" text-anchor="end" fill="#1a1a1a">-0.20</text>
<text x="91.7" y="810.2" font-size="17.3" text-anchor="middle" fill="#1a1a1a">0</text>
<text x="152.9" y="810.2" font-size="17.3" text-anchor="middle" fill="#1a1a1a">200</text>
<text x="223.4" y="810.2" font-size="17.3" text-anchor="middle" fill="#1a1a1a">400</text>
<text x="315.0" y="810.2" font-size="17.3" text-anchor="middle" fill="#1a1a1a">0</text>
<text x="376.6" y="810.2" font-size="17.3" text-anchor="middle" fill="#1a1a1a">200</text>
<text x="447.5" y="810.2" font-size="17.3" text-anchor="middle" fill="#1a1a1a">400</text>
<text x="539.1" y="810.2" font-size="17.3" text-anchor="middle" fill="#1a1a1a">0</text>
<text x="600.2" y="810.2" font-size="17.3" text-anchor="middle" fill="#1a1a1a">200</text>
<text x="670.5" y="810.2" font-size="17.3" text-anchor="middle" fill="#1a1a1a">400</text>
<text x="276.9" y="832.4" font-size="17.3" fill="#1a1a1a">N input rate (kgN ha<tspan font-size="11.5" dy="-7">-1</tspan><tspan dy="7"> yr</tspan><tspan font-size="11.5" dy="-7">-1</tspan><tspan dy="7">)</tspan></text>
<text transform="translate(16.3,529.8) rotate(-90)" x="0" y="0" text-anchor="middle" font-size="17.3" fill="#1a1a1a">f<tspan font-size="11.5" dy="3.5">neg</tspan><tspan dy="-3.5"> (kgCO</tspan><tspan font-size="11.5" dy="3.5">2</tspan><tspan dy="-3.5"> kgCO</tspan><tspan font-size="11.5" dy="3.5">2</tspan><tspan font-size="11.5" dy="-10">-1</tspan><tspan dy="6.5">)</tspan></text>
<text transform="translate(16.3,711.4) rotate(-90)" x="0" y="0" text-anchor="middle" font-size="17.3" fill="#1a1a1a">f<tspan font-size="11.5" dy="3.5">neg</tspan><tspan dy="-3.5"> (kgCO</tspan><tspan font-size="11.5" dy="3.5">2</tspan><tspan dy="-3.5"> kgCO</tspan><tspan font-size="11.5" dy="3.5">2</tspan><tspan font-size="11.5" dy="-10">-1</tspan><tspan dy="6.5">)</tspan></text>
</svg>
</body></html>
